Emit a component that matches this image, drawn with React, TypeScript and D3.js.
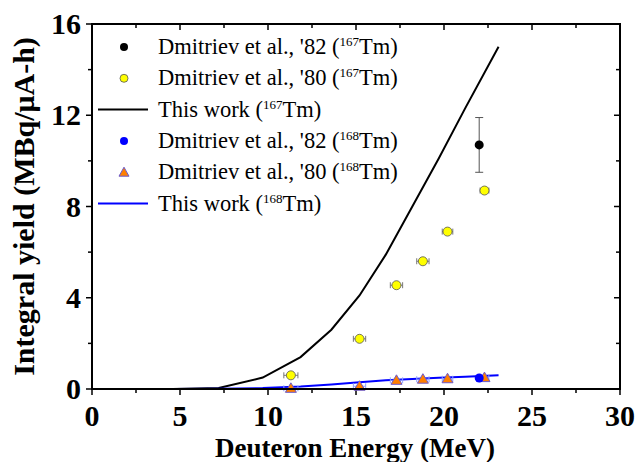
import React from 'react';
import * as d3 from 'd3';

// ---- data ----
const calcEnergy = [4.6, 7.2, 9.7, 11.85, 13.6, 15.2, 16.7, 18.2, 19.7, 21.2, 23.1];
const calc167 = [0, 0.04, 0.5, 1.4, 2.6, 4.1, 5.9, 8.0, 10.1, 12.3, 15.0];
const calc168 = [0, 0.01, 0.04, 0.11, 0.2, 0.3, 0.38, 0.44, 0.49, 0.54, 0.6];

const d82Energy = [22.0];
const d82Y167 = [10.7];
const d82Err167 = [1.2];
const d82Y168 = [0.48];

const d80Energy = [11.3, 15.2, 17.3, 18.8, 20.2, 22.3];
const d80Y167 = [0.6, 2.2, 4.55, 5.6, 6.9, 8.7];
const d80Y168 = [0.03, 0.12, 0.38, 0.43, 0.45, 0.5];
const d80EnergyErr = [0.4, 0.35, 0.35, 0.35, 0.3, 0.25];

const xTicks = [0, 5, 10, 15, 20, 25, 30];
const xMinor = [2.5, 7.5, 12.5, 17.5, 22.5, 27.5];
const yTicks = [0, 4, 8, 12, 16];
const yMinor = [2, 6, 10, 14];

const W = 635, H = 462;
const margin = { left: 92, right: 15, top: 24, bottom: 73 };
const serif = 'Liberation Serif';

const Sup = ({ base, sup }: { base: string; sup: string }) => (
  <>
    {base}
    <tspan dy={-8} fontSize={13}>{sup}</tspan>
    <tspan dy={8}>Tm)</tspan>
  </>
);

export default function App() {
  const x = d3.scaleLinear().domain([0, 30]).range([margin.left, W - margin.right]);
  const y = d3.scaleLinear().domain([0, 16]).range([H - margin.bottom, margin.top]);
  const x0 = x(0), x1 = x(30), y0 = y(0), y1 = y(16);

  const line = d3
    .line<number>()
    .x((d, i) => x(calcEnergy[i]))
    .y((d) => y(d));

  const legX = 124, legTextX = 158, legY0 = 47, legDy = 31.3;

  return (
    <svg width={W} height={H} style={{ position: 'absolute', left: 0, top: 0, background: '#fff' }}>
      {/* ticks */}
      <g stroke="#000" strokeWidth={1.5}>
        {xTicks.map((t) => (
          <g key={'xt' + t}>
            <line x1={x(t)} x2={x(t)} y1={y0} y2={y0 + 6} />
            <line x1={x(t)} x2={x(t)} y1={y1} y2={y1 + 6} />
          </g>
        ))}
        {xMinor.map((t) => (
          <g key={'xm' + t}>
            <line x1={x(t)} x2={x(t)} y1={y0} y2={y0 + 4} />
            <line x1={x(t)} x2={x(t)} y1={y1} y2={y1 + 4} />
          </g>
        ))}
        {yTicks.map((t) => (
          <g key={'yt' + t}>
            <line x1={x0 - 6} x2={x0} y1={y(t)} y2={y(t)} />
            <line x1={x1 - 6} x2={x1} y1={y(t)} y2={y(t)} />
          </g>
        ))}
        {yMinor.map((t) => (
          <g key={'ym' + t}>
            <line x1={x0 - 4} x2={x0} y1={y(t)} y2={y(t)} />
            <line x1={x1 - 4} x2={x1} y1={y(t)} y2={y(t)} />
          </g>
        ))}
      </g>

      {/* tick labels */}
      {xTicks.map((t) => (
        <text key={'xl' + t} x={x(t)} y={y0 + 37} textAnchor="middle" fontFamily={serif} fontWeight="bold" fontSize={30}>
          {t}
        </text>
      ))}
      {yTicks.map((t) => (
        <text key={'yl' + t} x={x0 - 11} y={y(t) + 10} textAnchor="end" fontFamily={serif} fontWeight="bold" fontSize={30}>
          {t}
        </text>
      ))}

      {/* axis titles */}
      <text x={(x0 + x1) / 2 - 1} y={H - 5} textAnchor="middle" fontFamily={serif} fontWeight="bold" fontSize={27}>
        Deuteron Energy (MeV)
      </text>
      <text
        transform={`translate(34,${(y0 + y1) / 2}) rotate(-90)`}
        textAnchor="middle"
        fontFamily={serif}
        fontWeight="bold"
        fontSize={30}
      >
        Integral yield (MBq/μA-h)
      </text>

      {/* calculated curves */}
      <path d={line(calc167) || ''} fill="none" stroke="#000" strokeWidth={2} />
      <path d={line(calc168) || ''} fill="none" stroke="#0000ff" strokeWidth={2} />

      {/* Dmitriev '80 167Tm */}
      {d80Energy.map((e, i) => (
        <g key={'y80' + i}>
          <g stroke="#777" strokeWidth={1}>
            <line x1={x(e - d80EnergyErr[i])} x2={x(e + d80EnergyErr[i])} y1={y(d80Y167[i])} y2={y(d80Y167[i])} />
            <line x1={x(e - d80EnergyErr[i])} x2={x(e - d80EnergyErr[i])} y1={y(d80Y167[i]) - 3} y2={y(d80Y167[i]) + 3} />
            <line x1={x(e + d80EnergyErr[i])} x2={x(e + d80EnergyErr[i])} y1={y(d80Y167[i]) - 3} y2={y(d80Y167[i]) + 3} />
          </g>
          <circle cx={x(e)} cy={y(d80Y167[i])} r={4.5} fill="#ffff00" stroke="#555" strokeWidth={0.8} />
        </g>
      ))}

      {/* Dmitriev '80 168Tm */}
      {d80Energy.map((e, i) => {
        const cx = x(e), cy = y(d80Y168[i]);
        return (
          <g key={'t80' + i}>
            <g stroke="#8fa0ff" strokeWidth={1}>
              <line x1={x(e - d80EnergyErr[i])} x2={x(e + d80EnergyErr[i])} y1={cy} y2={cy} />
              <line x1={x(e - d80EnergyErr[i])} x2={x(e - d80EnergyErr[i])} y1={cy - 3} y2={cy + 3} />
              <line x1={x(e + d80EnergyErr[i])} x2={x(e + d80EnergyErr[i])} y1={cy - 3} y2={cy + 3} />
            </g>
            <path
              d={`M${cx},${cy - 5.5}L${cx + 5.5},${cy + 4}L${cx - 5.5},${cy + 4}Z`}
              fill="#ff7f00"
              stroke="#6a5acd"
              strokeWidth={1}
            />
          </g>
        );
      })}

      {/* Dmitriev '82 */}
      {d82Energy.map((e, i) => (
        <g key={'b82' + i}>
          <g stroke="#555" strokeWidth={1}>
            <line x1={x(e)} x2={x(e)} y1={y(d82Y167[i] + d82Err167[i])} y2={y(d82Y167[i] - d82Err167[i])} />
            <line x1={x(e) - 4} x2={x(e) + 4} y1={y(d82Y167[i] + d82Err167[i])} y2={y(d82Y167[i] + d82Err167[i])} />
            <line x1={x(e) - 4} x2={x(e) + 4} y1={y(d82Y167[i] - d82Err167[i])} y2={y(d82Y167[i] - d82Err167[i])} />
          </g>
          <circle cx={x(e)} cy={y(d82Y167[i])} r={4.5} fill="#000" />
          <circle cx={x(e)} cy={y(d82Y168[i])} r={4.5} fill="#0000ff" />
        </g>
      ))}

      {/* frame */}
      <rect x={x0} y={y1} width={x1 - x0} height={y0 - y1} fill="none" stroke="#000" strokeWidth={2} />

      {/* legend */}
      <g fontFamily={serif} fontSize={22.5}>
        <circle cx={legX} cy={legY0} r={4} fill="#000" />
        <text x={legTextX} y={legY0 + 7}>
          <Sup base="Dmitriev et al., '82 (" sup="167" />
        </text>
        <circle cx={legX} cy={legY0 + legDy} r={4} fill="#ffff00" stroke="#555" strokeWidth={0.8} />
        <text x={legTextX} y={legY0 + legDy + 7}>
          <Sup base="Dmitriev et al., '80 (" sup="167" />
        </text>
        <line x1={98} x2={148} y1={legY0 + 2 * legDy} y2={legY0 + 2 * legDy} stroke="#000" strokeWidth={2} />
        <text x={legTextX} y={legY0 + 2 * legDy + 7}>
          <Sup base="This work (" sup="167" />
        </text>
        <circle cx={legX} cy={legY0 + 3 * legDy} r={4} fill="#0000ff" />
        <text x={legTextX} y={legY0 + 3 * legDy + 7}>
          <Sup base="Dmitriev et al., '82 (" sup="168" />
        </text>
        <path
          d={`M${legX},${legY0 + 4 * legDy - 5}L${legX + 5},${legY0 + 4 * legDy + 4}L${legX - 5},${legY0 + 4 * legDy + 4}Z`}
          fill="#ff7f00"
          stroke="#6a5acd"
          strokeWidth={1}
        />
        <text x={legTextX} y={legY0 + 4 * legDy + 7}>
          <Sup base="Dmitriev et al., '80 (" sup="168" />
        </text>
        <line x1={98} x2={148} y1={legY0 + 5 * legDy} y2={legY0 + 5 * legDy} stroke="#0000ff" strokeWidth={2} />
        <text x={legTextX} y={legY0 + 5 * legDy + 7}>
          <Sup base="This work (" sup="168" />
        </text>
      </g>
    </svg>
  );
}
